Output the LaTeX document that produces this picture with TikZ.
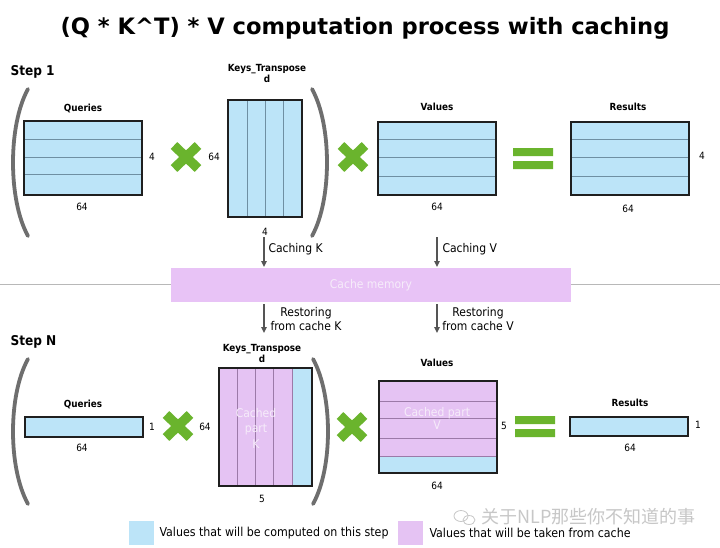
\documentclass[tikz,border=0pt]{standalone}
\usepackage{fontspec}
\setmainfont{DejaVu Sans Condensed}
\newfontfamily\titlefont{DejaVu Sans}
\newfontfamily\cjk{Noto Sans CJK SC}
\usetikzlibrary{arrows.meta}
\definecolor{cblue}{HTML}{BCE4F8}
\definecolor{cpurple}{HTML}{E5C3F3}
\definecolor{ccache}{HTML}{E8C3F6}
\definecolor{gridb}{HTML}{6F8FA3}
\definecolor{gridp}{HTML}{9C7AA8}
\definecolor{cgreen}{HTML}{6AB42D}
\definecolor{cparen}{HTML}{6E6E6E}
\definecolor{carrow}{HTML}{555555}
\definecolor{ctxtw}{HTML}{F6ECFA}
\begin{document}
\begin{tikzpicture}[x=1pt,y=-1pt,
  mfill/.style={rectangle,inner sep=0pt,outer sep=0pt},
  border/.style={draw=black!88,line width=1.4pt},
  gb/.style={draw=gridb,line width=0.9pt},
  gp/.style={draw=gridp,line width=0.9pt},
  paren/.style={draw=cparen,line width=3.8pt,line cap=round},
  arr/.style={draw=carrow,line width=1.6pt,-{Triangle[length=6pt,width=5.5pt]}},
  lbl/.style={font=\fontsize{9.8}{11}\selectfont\bfseries,align=center},
  num/.style={font=\fontsize{10}{10}\selectfont},
  arrlbl/.style={font=\fontsize{12}{14}\selectfont,align=center},
  wtxt/.style={text=ctxtw,font=\fontsize{12}{15.5}\selectfont,align=center},
  steplbl/.style={font=\fontsize{13.5}{15}\selectfont\bfseries,anchor=west},
  legtxt/.style={font=\fontsize{12.3}{14}\selectfont,anchor=west},
  xmk/.pic={\draw[cgreen,line width=9.5pt] (-12,-11.5) -- (12,11.5) (-12,11.5) -- (12,-11.5);},
  eqmk/.pic={\fill[cgreen] (-20,-10.5) rectangle (20,-2.5) (-20,2.5) rectangle (20,10.5);}
]
\useasboundingbox[fill=white] (0,0) rectangle (720,547);

% title
\node[font=\titlefont\fontsize{22.6}{26}\selectfont\bfseries,anchor=base] (title) at (365,34) {(Q * K\^{}T) * V computation process with caching};

% divider
\coordinate (dl) at (0,284);
\coordinate (dr) at (720,284);
\draw[draw=black!28,line width=0.9pt] (dl) -- (dr);

% ---------------- Step 1 ----------------
\node[steplbl] (s1) at (7,72) {Step 1};
\draw[paren] (28,89) .. controls (8,125) and (8,200) .. (28,236);
\draw[paren] (312,89) .. controls (332,125) and (332,200) .. (312,236);

% Queries
\node[mfill,fill=cblue,minimum width=118pt,minimum height=74pt] (q1) at (83,158) {};
\foreach \yy in {139,157,174} \draw[gb] (24,\yy) -- (142,\yy);
\draw[border] (q1.north west) rectangle (q1.south east);
\node[lbl] (q1l) at (83,108) {Queries};
\node[num] (q1b) at (82,207) {64};
\node[num] (q1r) at (152,157) {4};

\pic at (186,157) {xmk};
\node[num] (k1l) at (214,157) {64};

% Keys transposed
\node[mfill,fill=cblue,minimum width=74pt,minimum height=117pt] (k1) at (265,158.5) {};
\foreach \xx in {247,265,283} \draw[gb] (\xx,100) -- (\xx,217);
\draw[border] (k1.north west) rectangle (k1.south east);
\node[lbl] (k1t) at (267,73) {Keys\_Transpose\\d};
\node[num] (k1b) at (265,232) {4};

\pic at (353,157) {xmk};

% Values
\node[mfill,fill=cblue,minimum width=118pt,minimum height=73pt] (v1) at (437,158.5) {};
\foreach \yy in {139,157,176} \draw[gb] (378,\yy) -- (496,\yy);
\draw[border] (v1.north west) rectangle (v1.south east);
\node[lbl] (v1t) at (437,107) {Values};
\node[num] (v1b) at (437,207) {64};

\pic at (533,158.5) {eqmk};

% Results
\node[mfill,fill=cblue,minimum width=118pt,minimum height=73pt] (r1) at (630,158.5) {};
\foreach \yy in {139,157,176} \draw[gb] (571,\yy) -- (689,\yy);
\draw[border] (r1.north west) rectangle (r1.south east);
\node[lbl] (r1t) at (628,107) {Results};
\node[num] (r1b) at (628,209) {64};
\node[num] (r1r) at (702,156) {4};

% ---------------- Cache ----------------
\node[mfill,fill=ccache,minimum width=400pt,minimum height=34pt,
      text=ctxtw,font=\fontsize{12}{13}\selectfont] (cache) at (371,285) {Cache memory};

\coordinate (ck) at (264,237);
\coordinate (cv) at (437,237);
\draw[arr] (ck) -- ([yshift=1pt]cache.north -| ck);
\draw[arr] (cv) -- ([yshift=1pt]cache.north -| cv);
\node[arrlbl,anchor=west] (ckl) at (265,249) {Caching K};
\node[arrlbl,anchor=west] (cvl) at (439,249) {Caching V};

\coordinate (rk) at (264,333);
\coordinate (rv) at (437,333);
\draw[arr] ([yshift=-2pt]cache.south -| rk) -- (rk);
\draw[arr] ([yshift=-2pt]cache.south -| rv) -- (rv);
\node[arrlbl] (rkl) at (306,319) {Restoring\\from cache K};
\node[arrlbl] (rvl) at (478,319) {Restoring\\from cache V};

% ---------------- Step N ----------------
\node[steplbl] (sn) at (7,342) {Step N};
\draw[paren] (28,359) .. controls (8,395) and (8,468) .. (28,504);
\draw[paren] (313,359) .. controls (333,395) and (333,468) .. (313,504);

% Queries
\node[mfill,fill=cblue,minimum width=118pt,minimum height=20pt] (qn) at (84,427) {};
\draw[border] (qn.north west) rectangle (qn.south east);
\node[lbl] (qnl) at (83,404) {Queries};
\node[num] (qnb) at (82,448) {64};
\node[num] (qnr) at (152,427) {1};

\pic at (178,426) {xmk};
\node[num] (knl) at (205,427) {64};

% Keys transposed
\node[mfill,fill=cpurple,minimum width=93pt,minimum height=118pt] (kn) at (265.5,427) {};
\fill[cblue] (292,368) rectangle (312,486);
\foreach \xx in {237,255,273,292} \draw[gp] (\xx,368) -- (\xx,486);
\draw[border] (kn.north west) rectangle (kn.south east);
\node[wtxt] (knc) at (256,428) {Cached\\part\\K};
\node[lbl] (knt) at (262,353) {Keys\_Transpose\\d};
\node[num] (knb) at (262,499) {5};

\pic at (352,427) {xmk};

% Values
\node[mfill,fill=cpurple,minimum width=118pt,minimum height=92pt] (vn) at (438,427) {};
\fill[cblue] (379,456) rectangle (497,473);
\foreach \yy in {401,418,438,456} \draw[gp] (379,\yy) -- (497,\yy);
\draw[border] (vn.north west) rectangle (vn.south east);
\node[wtxt,font=\fontsize{12}{13}\selectfont] (vnc) at (437,418.5) {Cached part\\V};
\node[lbl] (vnt) at (437,363) {Values};
\node[num] (vnb) at (437,486) {64};
\node[num] (vnr) at (504,426) {5};

\pic at (535,426.5) {eqmk};

% Results
\node[mfill,fill=cblue,minimum width=118pt,minimum height=19pt] (rn) at (629,426.5) {};
\draw[border] (rn.north west) rectangle (rn.south east);
\node[lbl] (rnt) at (630,403) {Results};
\node[num] (rnb) at (630,448) {64};
\node[num] (rnr) at (698,425) {1};

% ---------------- Legend ----------------
\node[mfill,fill=cblue,minimum width=25pt,minimum height=24pt] (lb) at (141,533) {};
\node[legtxt] (lbt) at (156,533) {Values that will be computed on this step};
\node[mfill,fill=cpurple,minimum width=25pt,minimum height=24pt] (lp) at (410.5,533) {};
\node[legtxt] (lpt) at (426,533) {Values that will be taken from cache};

% watermark
\draw[black!22,line width=0.8pt] (461,516) ellipse (7pt and 5.5pt);
\draw[black!22,line width=0.8pt] (469,520) ellipse (6pt and 4.5pt);
\node[font=\cjk\fontsize{18}{20}\selectfont,text=black!22,anchor=west] (wm) at (478,517) {关于NLP那些你不知道的事};
\end{tikzpicture}
\end{document}
